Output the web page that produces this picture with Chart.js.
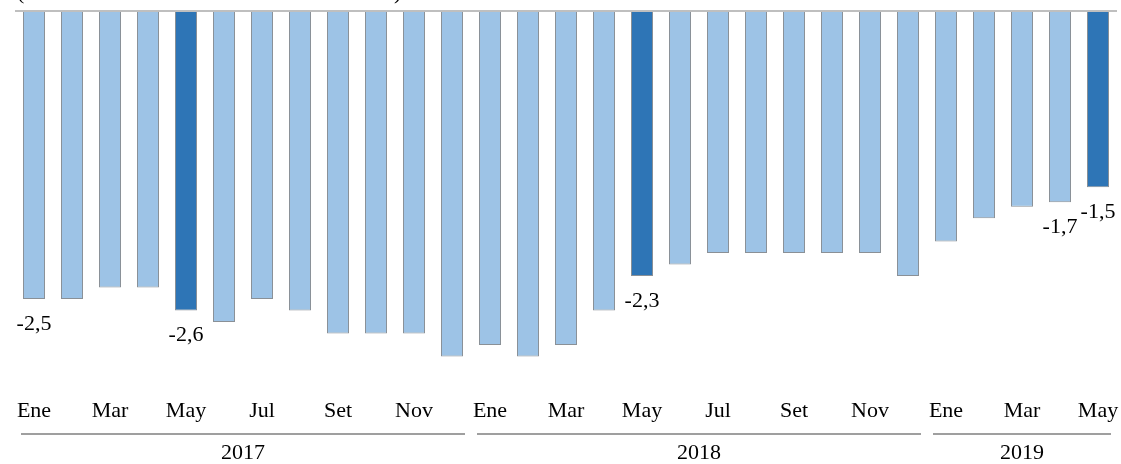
<!DOCTYPE html>
<html>
<head>
<meta charset="utf-8">
<script src="https://cdn.jsdelivr.net/npm/chart.js@4/dist/chart.umd.min.js"></script>
<style>
  html, body { margin: 0; padding: 0; background: #fff; }
  #wrap { width: 1121px; height: 464px; }
</style>
</head>
<body>
<div id="wrap"><canvas id="balanceChart" width="1121" height="464"></canvas></div>
<script>
// Resultado económico del SPNF - acumulado 12 meses (% PBI)
const months = ['Ene', 'Feb', 'Mar', 'Abr', 'May', 'Jun', 'Jul', 'Ago', 'Set', 'Oct', 'Nov', 'Dic',
                'Ene', 'Feb', 'Mar', 'Abr', 'May', 'Jun', 'Jul', 'Ago', 'Set', 'Oct', 'Nov', 'Dic',
                'Ene', 'Feb', 'Mar', 'Abr', 'May'];
const values = [-2.5, -2.5, -2.4, -2.4, -2.6, -2.7, -2.5, -2.6, -2.8, -2.8, -2.8, -3.0,
                -2.9, -3.0, -2.9, -2.6, -2.3, -2.2, -2.1, -2.1, -2.1, -2.1, -2.1, -2.3,
                -2.0, -1.8, -1.7, -1.66, -1.53];
const highlighted = [4, 16, 28];          // meses de mayo
const labelled = [0, 4, 16, 27, 28];      // barras con etiqueta
const yearLabels = ['2017', '2018', '2019'];
const yearFirst = [0, 12, 24];
const yearLast = [11, 23, 28];
const subtitle = '(Acumulado últimos 12 meses - % del PBI)';

const FONT = '"Liberation Serif", "DejaVu Serif", serif';
const LIGHT = '#9DC3E6';
const DARK = '#2E75B6';

const extras = {
    id: 'extras',
    afterDatasetsDraw(chart) {
        const ctx = chart.ctx;
        const x = chart.scales.x;
        const y = chart.scales.y;
        const area = chart.chartArea;
        const meta = chart.getDatasetMeta(0);

        // línea del cero
        ctx.save();
        ctx.strokeStyle = '#bfbfbf';
        ctx.lineWidth = 2;
        ctx.beginPath();
        ctx.moveTo(area.left, y.getPixelForValue(0));
        ctx.lineTo(area.right, y.getPixelForValue(0));
        ctx.stroke();

        // etiquetas de datos
        ctx.fillStyle = '#000';
        ctx.font = '22px ' + FONT;
        ctx.textAlign = 'center';
        ctx.textBaseline = 'middle';
        labelled.forEach(i => {
            const bar = meta.data[i];
            ctx.fillText(values[i].toFixed(1).replace('.', ','), bar.x, bar.y + 25);
        });

        // subtítulo (recortado arriba)
        ctx.textAlign = 'left';
        ctx.textBaseline = 'alphabetic';
        ctx.fillText(subtitle, 17, -1);

        // años y separadores
        const step = x.getPixelForValue(1) - x.getPixelForValue(0);
        const lineY = 434;
        ctx.strokeStyle = '#7f7f7f';
        ctx.lineWidth = 1.5;
        ctx.textBaseline = 'middle';
        ctx.textAlign = 'center';
        yearLabels.forEach((yr, k) => {
            const left = x.getPixelForValue(yearFirst[k]) - step / 2 + 6;
            const right = x.getPixelForValue(yearLast[k]) + step / 2 - 6;
            ctx.beginPath();
            ctx.moveTo(left, lineY);
            ctx.lineTo(right, lineY);
            ctx.stroke();
            ctx.fillText(yr, (left + right) / 2, 453);
        });
        ctx.restore();
    }
};

new Chart(document.getElementById('balanceChart').getContext('2d'), {
    type: 'bar',
    data: {
        labels: months,
        datasets: [{
            data: values,
            backgroundColor: values.map((v, i) => highlighted.includes(i) ? DARK : LIGHT),
            borderColor: '#8a9096',
            borderWidth: 1,
            borderSkipped: false,
            categoryPercentage: 1,
            barPercentage: 0.58
        }]
    },
    options: {
        responsive: false,
        animation: false,
        layout: { padding: { left: 15, right: 4, top: 11, bottom: 22 } },
        plugins: { legend: { display: false }, tooltip: { enabled: false } },
        scales: {
            x: {
                grid: { display: false, drawTicks: false },
                border: { display: false },
                afterFit: (s) => { s.paddingLeft = 0; s.paddingRight = 0; },
                ticks: {
                    autoSkip: false,
                    maxRotation: 0,
                    padding: 18,
                    color: '#000',
                    font: { family: FONT, size: 22 },
                    callback: (v, i) => i % 2 === 0 ? months[i] : ''
                }
            },
            y: {
                display: false,
                min: -3.2,
                max: 0
            }
        }
    },
    plugins: [extras]
});
</script>
</body>
</html>
